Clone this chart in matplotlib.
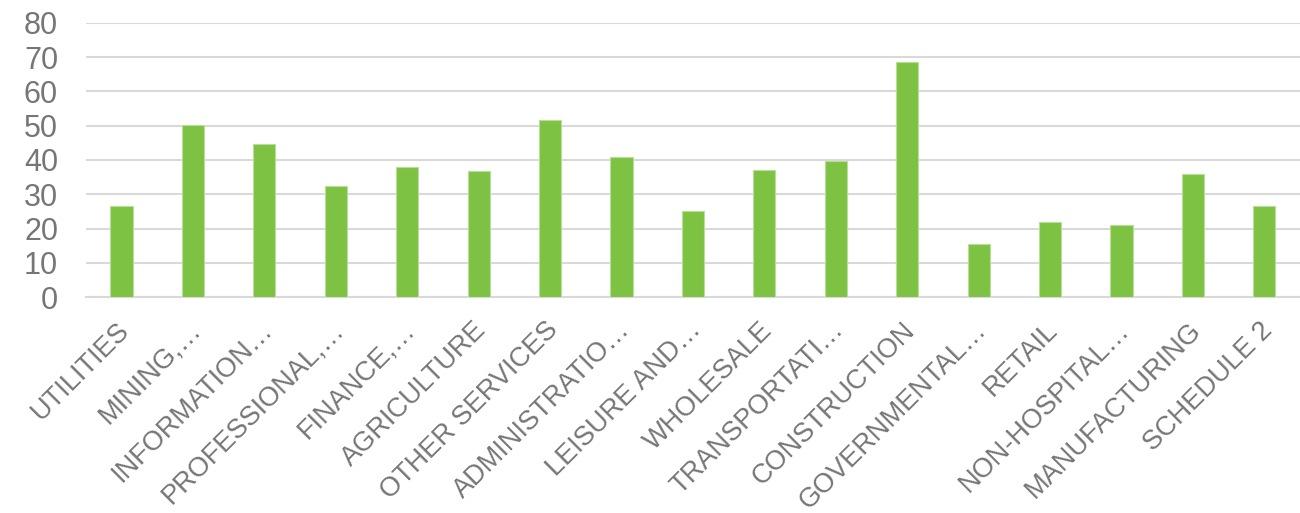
import matplotlib.pyplot as plt
from matplotlib.transforms import ScaledTranslation

# Categories and values
categories = [
    "UTILITIES", "MINING,…", "INFORMATION…", "PROFESSIONAL,…", "FINANCE,…",
    "AGRICULTURE", "OTHER SERVICES", "ADMINISTRATIO…", "LEISURE AND…",
    "WHOLESALE", "TRANSPORTATI…", "CONSTRUCTION", "GOVERNMENTAL…", "RETAIL",
    "NON-HOSPITAL…", "MANUFACTURING", "SCHEDULE 2",
]
values = [26.5, 50.2, 44.6, 32.4, 37.9, 36.7, 51.6, 40.9, 25.1,
          37.0, 39.7, 68.6, 15.6, 22.0, 21.1, 35.8, 26.7]
y_ticks = [0, 10, 20, 30, 40, 50, 60, 70, 80]

plt.rcParams['font.family'] = ['Liberation Sans', 'DejaVu Sans']
text_color = '#767676'
grid_color = '#d9d9d9'

fig = plt.figure(figsize=(13, 5.13), dpi=100)
ax = fig.add_axes([0.066, 0.4205, 0.934, 0.5353])

x = range(len(categories))
ax.bar(x, values, width=0.31, color='#7DC242', edgecolor='#B9DD9B', linewidth=0.8, zorder=3)

ax.set_xlim(-0.5, len(categories) - 0.5)
ax.set_ylim(0, 80)
ax.set_yticks(y_ticks)
ax.yaxis.grid(True, color=grid_color, linewidth=1.5, zorder=0)

for side in ['top', 'right', 'left']:
    ax.spines[side].set_visible(False)
ax.spines['bottom'].set_color(grid_color)
ax.spines['bottom'].set_linewidth(1.5)

ax.tick_params(axis='y', length=0, labelsize=22, labelcolor=text_color, pad=20)
ax.tick_params(axis='x', length=0, labelsize=19.5, labelcolor=text_color, pad=0)
ax.set_xticks(list(x))
ax.set_xticklabels(categories, rotation=45, ha='right', va='center', rotation_mode='anchor')

# shift the slanted labels so their ends sit where Excel puts them
offset = ScaledTranslation(4 / 100, -29 / 100, fig.dpi_scale_trans)
for lab in ax.get_xticklabels():
    lab.set_transform(lab.get_transform() + offset)

fig.savefig('out.png', dpi=100)
